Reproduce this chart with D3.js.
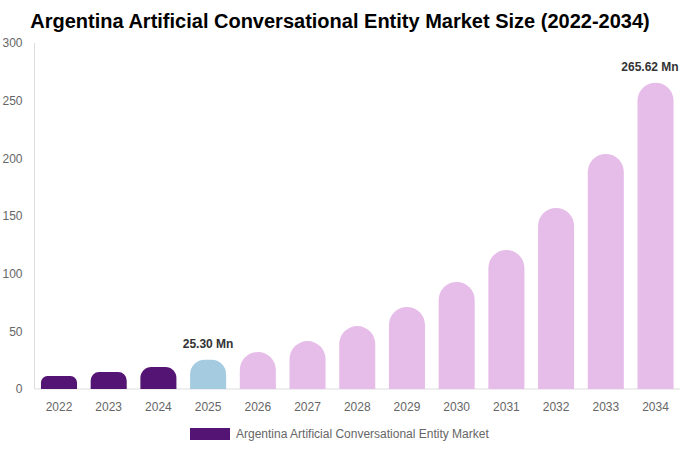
<!DOCTYPE html>
<html>
<head>
<meta charset="utf-8">
<script src="https://cdn.jsdelivr.net/npm/d3@7"></script>
<style>
  body { margin: 0; background: #fff; }
  text { font-family: "Liberation Sans", Arial, sans-serif; }
</style>
</head>
<body>
<svg id="chart" width="680" height="450"></svg>
<script>
const years = ['2022', '2023', '2024', '2025', '2026', '2027', '2028', '2029', '2030', '2031', '2032', '2033', '2034'];
const marketSize = [11.3, 14.7, 19.1, 25.3, 32.1, 41.6, 54.6, 71.1, 92.8, 120.6, 157.0, 203.8, 265.62];
const yTicks = [0, 50, 100, 150, 200, 250, 300];
const labels = { '2025': '25.30 Mn', '2034': '265.62 Mn' };

const histColor = '#541474';
const baseColor = '#a4cbe0';
const forecastColor = '#e6bde9';

const svg = d3.select('#chart');
const margin = { top: 43, right: 0, bottom: 61, left: 34.5 };
const width = 680 - margin.left - margin.right;
const height = 450 - margin.top - margin.bottom;

const g = svg.append('g').attr('transform', `translate(${margin.left},${margin.top})`);

const x = d3.scaleBand().domain(years).range([0, width])
  .paddingInner(0.275).paddingOuter(0.13);
const y = d3.scaleLinear().domain([0, 300]).range([height, 0]);

// title
svg.append('text')
  .attr('x', 340).attr('y', 28)
  .attr('text-anchor', 'middle')
  .attr('font-size', 20).attr('font-weight', 'bold').attr('fill', '#000')
  .text('Argentina Artificial Conversational Entity Market Size (2022-2034)');

// axis lines
g.append('line').attr('x1', 0).attr('x2', 0).attr('y1', 0).attr('y2', height)
  .attr('stroke', '#ddd');
g.append('line').attr('x1', 0).attr('x2', width).attr('y1', height).attr('y2', height)
  .attr('stroke', '#ddd');

// y tick labels
g.append('g').selectAll('text')
  .data(yTicks).enter().append('text')
  .attr('x', -12).attr('y', d => y(d))
  .attr('dy', '0.35em').attr('text-anchor', 'end')
  .attr('font-size', 12).attr('fill', '#666')
  .text(d => d);

// x tick labels
g.append('g').selectAll('text')
  .data(years).enter().append('text')
  .attr('x', d => x(d) + x.bandwidth() / 2).attr('y', height + 22)
  .attr('text-anchor', 'middle')
  .attr('font-size', 12).attr('fill', '#666')
  .text(d => d);

// bars with rounded tops
function barPath(x0, w, top, bottom) {
  const h = bottom - top;
  const r = Math.min(w / 2, h / 2);
  return `M${x0},${bottom}V${top + r}A${r},${r} 0 0 1 ${x0 + r},${top}` +
    `H${x0 + w - r}A${r},${r} 0 0 1 ${x0 + w},${top + r}V${bottom}Z`;
}

const data = years.map((yr, i) => ({ year: yr, value: marketSize[i] }));

g.selectAll('.bar')
  .data(data).enter().append('path')
  .attr('class', 'bar')
  .attr('d', d => barPath(x(d.year), x.bandwidth(), y(d.value), y(0)))
  .attr('fill', d => d.year < '2025' ? histColor : (d.year === '2025' ? baseColor : forecastColor));

// value labels, kept inside the right edge
g.selectAll('.val')
  .data(data.filter(d => labels[d.year])).enter().append('text')
  .attr('class', 'val')
  .attr('x', d => Math.min(x(d.year) + x.bandwidth() / 2, width - 30))
  .attr('y', d => y(d.value) - 12)
  .attr('text-anchor', 'middle')
  .attr('font-size', 12).attr('font-weight', 'bold').attr('fill', '#333')
  .text(d => labels[d.year]);

// legend
svg.append('rect').attr('x', 190).attr('y', 428).attr('width', 40).attr('height', 12)
  .attr('fill', histColor);
svg.append('text').attr('x', 236).attr('y', 437.5)
  .attr('font-size', 12).attr('fill', '#666')
  .text('Argentina Artificial Conversational Entity Market');
</script>
</body>
</html>
